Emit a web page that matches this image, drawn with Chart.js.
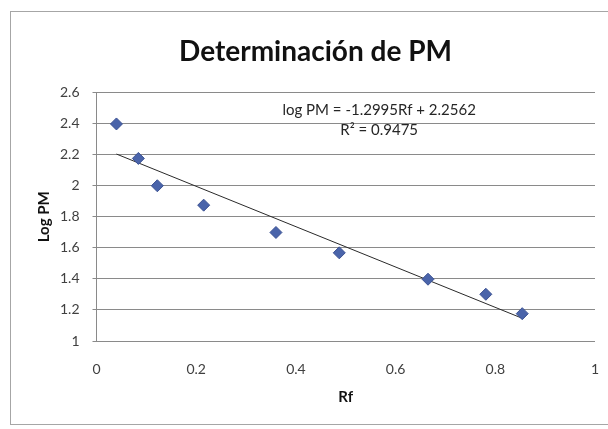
<!DOCTYPE html>
<html>
<head>
<meta charset="utf-8">
<script src="https://cdn.jsdelivr.net/npm/chart.js@4"></script>
<style>
  html, body { margin: 0; padding: 0; background: #fff; overflow: hidden; }
  /* the chart runs a little past the right edge of the page */
  #wrap { width: 634px; height: 429px; position: relative; }
</style>
</head>
<body>
<div id="wrap"><canvas id="pmChart"></canvas></div>
<script>
// Rf of each marker band and the log of its molecular weight
const rfValues = [0.04, 0.084, 0.122, 0.215, 0.36, 0.487, 0.665, 0.781, 0.854];
const logPM = [2.398, 2.176, 2.0, 1.875, 1.699, 1.568, 1.398, 1.301, 1.176];

// linear fit printed on the chart
const slope = -1.2995;
const intercept = 2.2562;
const rSquared = 0.9475;

const xTicks = [0, 0.2, 0.4, 0.6, 0.8, 1];
const yTicks = [1, 1.2, 1.4, 1.6, 1.8, 2, 2.2, 2.4, 2.6];

const FONT = 'Lato, "Open Sans", sans-serif';
const GRID = '#8a8a8a';

const points = rfValues.map((rf, i) => ({ x: rf, y: logPM[i] }));
const rfFirst = rfValues[0];
const rfLast = rfValues[rfValues.length - 1];
const fitLine = [
  { x: rfFirst, y: slope * rfFirst + intercept },
  { x: rfLast, y: slope * rfLast + intercept }
];

// white background and the thin frame around the whole chart
const frame = {
  id: 'frame',
  beforeDraw(chart) {
    const ctx = chart.ctx;
    ctx.save();
    ctx.fillStyle = '#fff';
    ctx.fillRect(0, 0, chart.width, chart.height);
    ctx.strokeStyle = '#a6a6a6';
    ctx.lineWidth = 1;
    ctx.strokeRect(10.5, 11.5, chart.width + 20, 413);
    ctx.restore();
  }
};

// equation and R² of the fit
const fitLabel = {
  id: 'fitLabel',
  afterDatasetsDraw(chart) {
    const { ctx, scales: { x, y } } = chart;
    const px = x.getPixelForValue(0.567);
    const py = y.getPixelForValue(2.484);
    ctx.save();
    ctx.font = '15px ' + FONT;
    ctx.fillStyle = '#262626';
    ctx.textAlign = 'center';
    ctx.textBaseline = 'middle';
    ctx.fillText(`log PM = ${slope}Rf + ${intercept}`, px, py);
    ctx.fillText(`R² = ${rSquared}`, px, py + 20);
    ctx.restore();
  }
};

new Chart(document.getElementById('pmChart'), {
  type: 'scatter',
  data: {
    datasets: [
      {
        label: 'Log PM',
        data: points,
        pointStyle: 'rectRot',
        pointRadius: 6,
        backgroundColor: '#4a64aa',
        borderColor: '#3c5293',
        borderWidth: 1,
        order: 1
      },
      {
        label: 'Lineal',
        type: 'line',
        data: fitLine,
        borderColor: '#2a2a2a',
        borderWidth: 1,
        pointRadius: 0,
        fill: false,
        order: 2
      }
    ]
  },
  options: {
    responsive: true,
    maintainAspectRatio: false,
    animation: false,
    layout: { padding: { left: 10, right: 13, top: 0, bottom: 0 } },
    plugins: {
      legend: { display: false },
      tooltip: { enabled: false },
      title: {
        display: true,
        text: 'Determinación de PM',
        color: '#111',
        font: { family: FONT, size: 28, weight: 'bold' },
        padding: { top: 35, bottom: 24 }
      }
    },
    scales: {
      x: {
        type: 'linear',
        min: xTicks[0],
        max: xTicks[xTicks.length - 1],
        afterBuildTicks: s => { s.ticks = xTicks.map(v => ({ value: v })); },
        afterFit: s => {
          s.height = 88;
          s.paddingLeft = 0;
          s.paddingRight = 39;
        },
        grid: { display: false },
        border: { display: false },
        ticks: {
          color: '#404040',
          font: { family: FONT, size: 14 },
          padding: 12,
          maxRotation: 0,
          callback: v => String(v)
        },
        title: {
          display: true,
          text: 'Rf',
          color: '#111',
          font: { family: FONT, size: 15, weight: 'bold' },
          padding: { top: 0, bottom: 23 }
        }
      },
      y: {
        min: yTicks[0],
        max: yTicks[yTicks.length - 1],
        afterBuildTicks: s => { s.ticks = yTicks.map(v => ({ value: v })); },
        afterFit: s => { s.width = 86.5; },
        grid: { color: GRID, lineWidth: 1, tickLength: 4 },
        border: { display: true, color: GRID },
        ticks: {
          color: '#404040',
          font: { family: FONT, size: 14 },
          padding: 13,
          callback: v => String(v)
        },
        title: {
          display: true,
          text: 'Log PM',
          color: '#111',
          font: { family: FONT, size: 15, weight: 'bold' },
          padding: { top: 25, bottom: 0 }
        }
      }
    }
  },
  plugins: [frame, fitLabel]
});
</script>
</body>
</html>
